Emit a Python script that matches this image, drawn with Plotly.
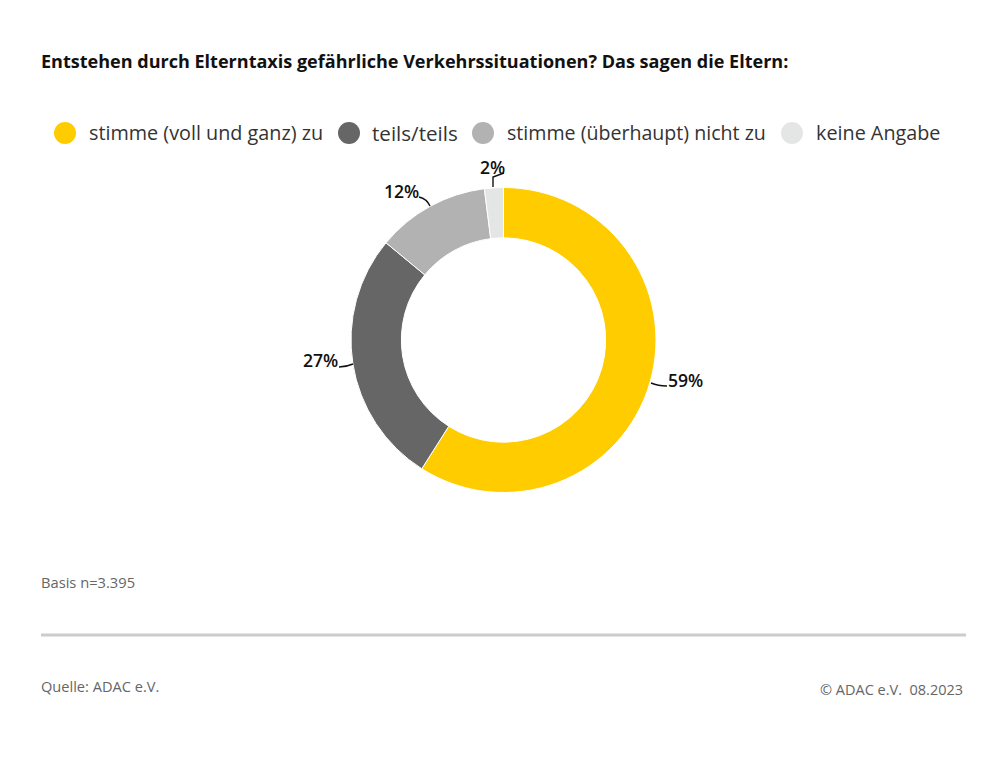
import plotly.graph_objects as go

labels = ["stimme (voll und ganz) zu", "teils/teils", "stimme (überhaupt) nicht zu", "keine Angabe"]
values = [59, 27, 12, 2]
colors = ["#FFCC00", "#666666", "#B2B2B2", "#E4E6E5"]
text_labels = ["59%", "27%", "12%", "2%"]
title = "Entstehen durch Elterntaxis gefährliche Verkehrssituationen? Das sagen die Eltern:"
FONT = "Open Sans"
W, H = 1007, 780
PAGE_MARGIN = 8  # the browser's default body margin

def px(x): return (x - PAGE_MARGIN) / W
def py(y): return 1 - (y - PAGE_MARGIN) / H

fig = go.Figure(go.Pie(
    labels=labels, values=values, hole=0.67, sort=False, direction="clockwise", rotation=0,
    marker=dict(colors=colors, line=dict(color="white", width=1)),
    textinfo="none", showlegend=False,
    domain=dict(x=[px(351), px(656)], y=[py(493), py(187)]),
))

ann = []
def t(x, y, s, size, color="#1a1a1a", anchor="left", weight=400):
    ann.append(dict(x=px(x), y=py(y), xref="paper", yref="paper", text=s,
                    showarrow=False, xanchor=anchor, yanchor="middle", borderpad=0, borderwidth=0,
                    font=dict(family=FONT, size=size, color=color, weight=weight)))

t(41, 61, title, 18.05, "#111111", weight=700)
legend_x = [65, 349, 483, 792]
legend_tx = [89, 372, 507, 816]
legend_sizes = [19.8, 20.6, 19.6, 19.8]
for lx, tx, c, l, sz in zip(legend_x, legend_tx, colors, labels, legend_sizes):
    t(tx, 133, l, sz, "#333333", weight=500)
t(41, 582, "Basis n=3.395", 14.7, "#666666")
t(41, 686, "Quelle: ADAC e.V.", 14.6, "#666666")
t(963, 689, "© ADAC e.V.  08.2023", 14.5, "#666666", anchor="right")
t(668, 380, text_labels[0], 17.6, "#111111", weight=600)
t(338, 360, text_labels[1], 17.6, "#111111", anchor="right", weight=600)
t(419, 191, text_labels[2], 17.6, "#111111", anchor="right", weight=600)
t(492, 167, text_labels[3], 17.6, "#111111", anchor="center", weight=600)

shapes = [dict(type="circle", xref="paper", yref="paper", x0=px(lx-11), x1=px(lx+11), y0=py(144), y1=py(122),
               fillcolor=c, line=dict(width=0)) for lx, c in zip(legend_x, colors)]
shapes.append(dict(type="line", xref="paper", yref="paper", x0=px(41), x1=px(966), y0=py(635), y1=py(635),
                   line=dict(color="#CCCCCC", width=3)))
for p in ["M 651 383 Q 658 386 667 386", "M 353 364 Q 346 367 339 367", "M 430 206 Q 427 199 419 197", "M 493 187 L 493 177 L 504 173"]:
    pts = p.split()
    out, i = [], 0
    while i < len(pts):
        if pts[i].isalpha():
            out.append(pts[i]); i += 1
        else:
            out.append(f"{px(float(pts[i]))} {py(float(pts[i+1]))}"); i += 2
    shapes.append(dict(type="path", xref="paper", yref="paper", path=" ".join(out), line=dict(color="#111111", width=1.4)))

fig.update_layout(width=W, height=H, margin=dict(l=0, r=0, t=0, b=0), paper_bgcolor="white",
                  annotations=ann, shapes=shapes)
fig.write_html("out.html")
